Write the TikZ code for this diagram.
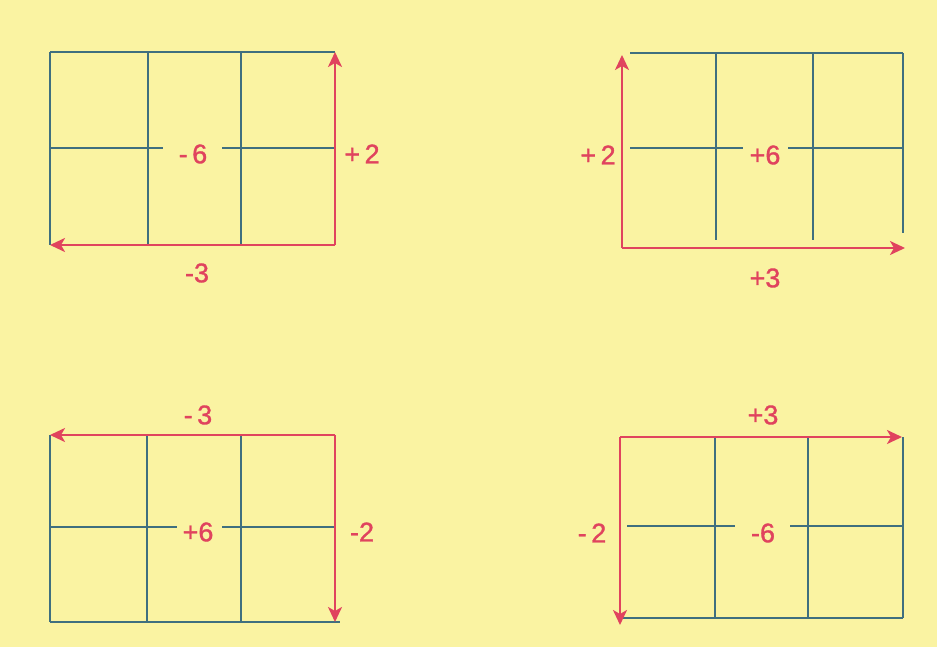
\documentclass[tikz,border=0pt]{standalone}
\usepackage{fontspec}
\setmainfont{Liberation Sans}
\newfontfamily\lblfont[FakeBold=1.2]{Liberation Sans}
\usetikzlibrary{arrows.meta}
\definecolor{paper}{HTML}{FAF3A2}
\definecolor{gridc}{HTML}{3F6F7F}
\definecolor{redc}{HTML}{E0435E}
\tikzset{
  gridline/.style={draw=gridc, line width=1.5pt},
  redarrow/.style={draw=redc, line width=2.3pt, -{Stealth[length=15pt,width=14pt,inset=4pt]}},
  lbl/.style={text=redc, font=\lblfont\fontsize{27}{27}\selectfont, inner sep=0pt}
}
\begin{document}
\begin{tikzpicture}[x=1pt,y=-1pt]
\fill[paper] (0,0) rectangle (937,647);
\useasboundingbox (0,0) rectangle (937,647);

% ---------- Grid 1 (top left) ----------
\coordinate (a0) at (335,245);
\coordinate (aU) at (335,52);
\coordinate (aL) at (50,245);
\draw[gridline] (50,52) -- (335,52);
\draw[gridline] (50,52) -- (50,245);
\draw[gridline] (148,52) -- (148,245);
\draw[gridline] (241,52) -- (241,245);
\draw[gridline] (50,148) -- (163,148);
\draw[gridline] (222,148) -- (335,148);
\draw[redarrow] (a0) -- (aU);
\draw[redarrow] (a0) -- (aL);
\node[lbl] (a6) at (193,154) {-\,6};
\node[lbl] (a2) at (362,154) {+\,2};
\node[lbl] (a3) at (197,273) {-3};

% ---------- Grid 2 (top right) ----------
\coordinate (b0) at (622,248);
\coordinate (bU) at (622,55);
\coordinate (bR) at (905,248);
\draw[gridline] (630,53) -- (903,53);
\draw[gridline] (903,53) -- (903,233);
\draw[gridline] (716,53) -- (716,240);
\draw[gridline] (813,53) -- (813,240);
\draw[gridline] (630,148) -- (743,148);
\draw[gridline] (788,148) -- (903,148);
\draw[redarrow] (b0) -- (bU);
\draw[redarrow] (b0) -- (bR);
\node[lbl] (b2) at (598,155) {+\,2};
\node[lbl] (b6) at (765,155) {+6};
\node[lbl] (b3) at (765,278) {+3};

% ---------- Grid 3 (bottom left) ----------
\coordinate (c0) at (335,435);
\coordinate (cL) at (50,435);
\coordinate (cD) at (335,622);
\draw[gridline] (50,435) -- (50,622);
\draw[gridline] (50,622) -- (340,622);
\draw[gridline] (147,435) -- (147,622);
\draw[gridline] (241,435) -- (241,622);
\draw[gridline] (50,527) -- (177,527);
\draw[gridline] (222,527) -- (335,527);
\draw[redarrow] (c0) -- (cL);
\draw[redarrow] (c0) -- (cD);
\node[lbl] (c3) at (198,415) {-\,3};
\node[lbl] (c6) at (198,532) {+6};
\node[lbl] (c2) at (362,532) {-2};

% ---------- Grid 4 (bottom right) ----------
\coordinate (d0) at (620,437);
\coordinate (dR) at (902,437);
\coordinate (dD) at (620,625);
\draw[gridline] (903,437) -- (903,618);
\draw[gridline] (620,618) -- (903,618);
\draw[gridline] (715,437) -- (715,618);
\draw[gridline] (808,437) -- (808,618);
\draw[gridline] (627,526) -- (735,526);
\draw[gridline] (790,526) -- (903,526);
\draw[redarrow] (d0) -- (dR);
\draw[redarrow] (d0) -- (dD);
\node[lbl] (d2) at (592,533) {-\,2};
\node[lbl] (d6) at (763,533) {-6};
\node[lbl] (d3) at (763,415) {+3};
\end{tikzpicture}
\end{document}
